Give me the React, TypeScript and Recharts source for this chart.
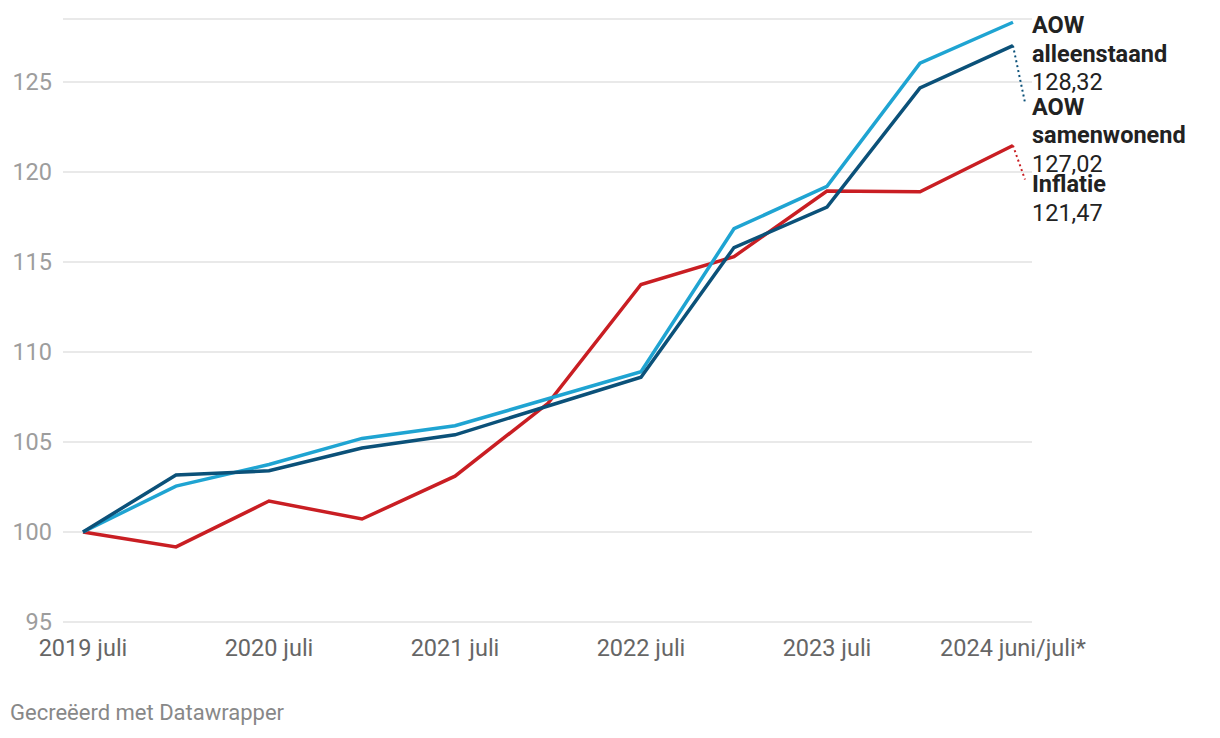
import { LineChart, Line, XAxis, YAxis, CartesianGrid, LabelList } from 'recharts';

const periods = [
  '2019 juli', '2020 januari', '2020 juli', '2021 januari', '2021 juli', '2022 januari',
  '2022 juli', '2023 januari', '2023 juli', '2024 januari', '2024 juni/juli*',
];
const aowAlleenstaand = [100, 102.55, 103.75, 105.2, 105.9, 107.4, 108.9, 116.85, 119.2, 126.05, 128.32];
const aowSamenwonend = [100, 103.17, 103.4, 104.67, 105.4, 107.0, 108.6, 115.8, 118.05, 124.67, 127.02];
const inflatie = [100, 99.17, 101.72, 100.72, 103.1, 107.15, 113.75, 115.3, 118.94, 118.9, 121.47];
const yTicks = [95, 100, 105, 110, 115, 120, 125];

const data = periods.map((period, i) => ({
  period,
  alleenstaand: aowAlleenstaand[i],
  samenwonend: aowSamenwonend[i],
  inflatie: inflatie[i],
}));

const last = periods.length - 1;
const FONT = 'Roboto, sans-serif';
const FS = 23.5;

const fmt = (v: number) => v.toFixed(2).replace('.', ',');

// end-of-line label: name (bold, maybe 2 lines), then value; optional dotted leader
function endLabel(names: string[], color: string, firstDy: number, leaderDy?: number) {
  return (props: any) => {
    const { x, y, index, value } = props;
    if (index !== last) return null;
    const tx = x + 19;
    return (
      <g>
        {leaderDy !== undefined && (
          <line x1={x} y1={y} x2={x + 12} y2={y + leaderDy} stroke={color} strokeWidth={2} strokeDasharray="2 3" />
        )}
        {names.map((n, i) => (
          <text key={i} x={tx} y={y + firstDy + i * 28.5} fill="#222" fontFamily={FONT} fontSize={FS} fontWeight={700}>
            {n}
          </text>
        ))}
        <text x={tx} y={y + firstDy + names.length * 28.5} fill="#222" fontFamily={FONT} fontSize={FS}>
          {fmt(Number(value))}
        </text>
      </g>
    );
  };
}

export default function App() {
  return (
    <div style={{ position: 'absolute', left: 0, top: 0, width: 1220, height: 738, background: '#fff' }}>
      <LineChart width={1220} height={690} data={data} margin={{ top: 19, right: 188, bottom: 38, left: 0 }}>
        <CartesianGrid vertical={false} stroke="#e2e2e2" strokeWidth={1.5} />
        <XAxis
          dataKey="period"
          interval={1}
          padding={{ left: 20, right: 19 }}
          axisLine={false}
          tickLine={false}
          tickSize={0}
          tickMargin={17}
          height={30}
          tick={{ fill: '#666', fontSize: FS, fontFamily: FONT }}
        />
        <YAxis
          domain={[95, 128.5]}
          ticks={yTicks}
          width={63}
          axisLine={false}
          tickLine={false}
          tickSize={0}
          tickMargin={11}
          tick={{ fill: '#9d9d9d', fontSize: FS, fontFamily: FONT }}
        />
        <Line dataKey="inflatie" stroke="#c91e23" strokeWidth={3.5} dot={false} isAnimationActive={false}>
          <LabelList dataKey="inflatie" content={endLabel(['Inflatie'], '#c91e23', 46.5, 34)} />
        </Line>
        <Line dataKey="alleenstaand" stroke="#1fa4d2" strokeWidth={3.5} dot={false} isAnimationActive={false}>
          <LabelList dataKey="alleenstaand" content={endLabel(['AOW', 'alleenstaand'], '#1fa4d2', 11)} />
        </Line>
        <Line dataKey="samenwonend" stroke="#0b5179" strokeWidth={3.5} dot={false} isAnimationActive={false}>
          <LabelList dataKey="samenwonend" content={endLabel(['AOW', 'samenwonend'], '#0b5179', 69, 57)} />
        </Line>
      </LineChart>
      <div style={{ position: 'absolute', left: 10, top: 700, fontFamily: FONT, fontSize: 22, color: '#888' }}>
        Gecreëerd met Datawrapper
      </div>
    </div>
  );
}
